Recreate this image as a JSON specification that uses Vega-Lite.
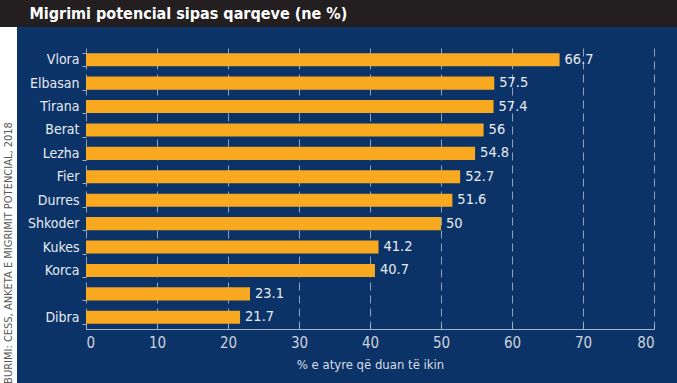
{
  "$schema": "https://vega.github.io/schema/vega-lite/v6.json",
  "background": "#0b3367",
  "padding": 0,
  "spacing": 0,
  "config": {"view": {"stroke": null}},
  "vconcat": [
    {
      "width": 677,
      "height": 27,
      "view": {"fill": "#231f20", "stroke": null},
      "data": {"values": [{"t": "Migrimi potencial sipas qarqeve (ne %)"}]},
      "mark": {"type": "text", "text": ""},
      "encoding": {
        "y": {
          "field": "t",
          "type": "nominal",
          "axis": {
            "title": null,
            "domain": false,
            "ticks": false,
            "tickSize": 0,
            "offset": -29,
            "labelPadding": 0,
            "labelAlign": "left",
            "labelBaseline": "middle",
            "labelColor": "#ffffff",
            "labelFont": "DejaVu Sans Condensed, Roboto, sans-serif",
            "labelFontSize": 16,
            "labelFontWeight": "bold",
            "labelLimit": 600
          }
        }
      }
    },
    {
      "spacing": 10,
      "hconcat": [
        {
          "width": 17,
          "height": 356,
          "view": {"fill": "#ffffff", "stroke": null},
          "data": {"values": [{"s": "BURIMI: CESS, ANKETA E MIGRIMIT POTENCIAL, 2018"}]},
          "mark": {"type": "text", "angle": 270, "dx": -48, "color": "#5a5a5a", "fontSize": 11, "font": "DejaVu Sans Condensed, Roboto, sans-serif", "clip": true},
          "encoding": {"text": {"field": "s"}}
        },
        {
          "spacing": 13,
          "vconcat": [
            {
              "width": 568,
              "height": 1,
              "data": {"values": [{"t": ""}]},
              "mark": {"type": "point", "opacity": 0, "size": 0},
              "encoding": {}
            },
            {
              "width": 568,
              "height": 281,
              "data": {
                "values": [
                  {"qarku": "Vlora", "vlera": 66.7},
                  {"qarku": "Elbasan", "vlera": 57.5},
                  {"qarku": "Tirana", "vlera": 57.4},
                  {"qarku": "Berat", "vlera": 56},
                  {"qarku": "Lezha", "vlera": 54.8},
                  {"qarku": "Fier", "vlera": 52.7},
                  {"qarku": "Durres", "vlera": 51.6},
                  {"qarku": "Shkoder", "vlera": 50},
                  {"qarku": "Kukes", "vlera": 41.2},
                  {"qarku": "Korca", "vlera": 40.7},
                  {"qarku": " ", "vlera": 23.1},
                  {"qarku": "Dibra", "vlera": 21.7}
                ]
              },
              "encoding": {
                "y": {
                  "field": "qarku",
                  "type": "nominal",
                  "sort": null,
                  "scale": {"paddingInner": 0.44, "paddingOuter": 0.22},
                  "axis": {
                    "title": null,
                    "domain": false,
                    "ticks": true,
                    "tickBand": "extent",
                    "tickSize": 4,
                    "tickColor": "#9fabc2",
                    "labelColor": "#e8ebf1",
                    "labelFont": "DejaVu Sans Condensed, Roboto, sans-serif",
                    "labelFontSize": 14,
                    "labelPadding": 3
                  }
                },
                "x": {
                  "field": "vlera",
                  "type": "quantitative",
                  "scale": {"domain": [0, 80], "nice": false},
                  "axis": {
                    "title": "% e atyre që duan të ikin",
                    "titleColor": "#d8dce5",
                    "titleFont": "DejaVu Sans Condensed, Roboto, sans-serif",
                    "titleFontSize": 13,
                    "titleFontWeight": "normal",
                    "titlePadding": 8,
                    "values": [0, 10, 20, 30, 40, 50, 60, 70, 80],
                    "domainColor": "#a9b3c6",
                    "tickColor": "#a9b3c6",
                    "tickSize": -5,
                    "labelColor": "#cdd2dd",
                    "labelFont": "DejaVu Sans Condensed, Roboto, sans-serif",
                    "labelFontSize": 15,
                    "labelPadding": 11,
                    "grid": true,
                    "gridColor": "#8fa2c0",
                    "gridDash": [8, 5],
                    "gridWidth": 1
                  }
                }
              },
              "layer": [
                {"mark": {"type": "bar", "color": "#f8a920"}},
                {
                  "mark": {"type": "text", "align": "left", "baseline": "middle", "dx": 5, "color": "#e8ebf1", "font": "DejaVu Sans Condensed, Roboto, sans-serif", "fontSize": 14.5},
                  "encoding": {"text": {"field": "vlera", "type": "nominal"}}
                }
              ]
            }
          ]
        }
      ]
    }
  ]
}
